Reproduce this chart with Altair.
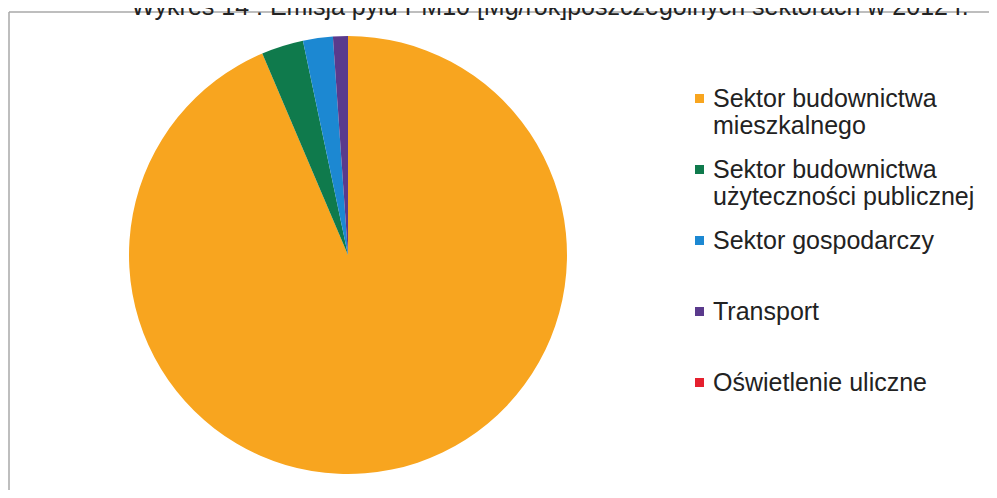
import altair as alt
import pandas as pd

categories = [
    "Sektor budownictwa mieszkalnego",
    "Sektor budownictwa użyteczności publicznej",
    "Sektor gospodarczy",
    "Transport",
    "Oświetlenie uliczne",
]
values = [93.6, 3.1, 2.2, 1.1, 0.0]
order_idx = [0, 1, 2, 3, 4]
colors = ["#F8A51F", "#0F7A4C", "#1C88D2", "#5A3A8C", "#E5202E"]
title_text = "Wykres 14 : Emisja pyłu PM10 [Mg/rok]poszczególnych sektorach w 2012 r."

df = pd.DataFrame({"sektor": categories, "emisja": values, "kolejnosc": order_idx})

pie = alt.Chart(df).mark_arc(radius=219, strokeWidth=0).encode(
    theta=alt.Theta("emisja:Q", stack=True),
    color=alt.Color(
        "sektor:N",
        scale=alt.Scale(domain=categories, range=colors),
        legend=alt.Legend(
            title=None,
            orient="none",
            legendX=679,
            legendY=66,
            symbolType="square",
            symbolSize=81,
            symbolStrokeWidth=0,
            labelFont="Liberation Sans",
            labelFontSize=25,
            labelColor="#222222",
            labelOffset=1,
            labelLimit=400,
            labelExpr="split(replace(datum.label, 'budownictwa ', 'budownictwa|'), '|')",
            gridAlign="all",
            rowPadding=18,
        ),
    ),
    order=alt.Order("kolejnosc:Q"),
)

frame_df = pd.DataFrame({"k": [0]})
frame_top = alt.Chart(frame_df).mark_rule(color="#A8A8A8", strokeWidth=1.5).encode(
    x=alt.value(1), x2=alt.value(1000), y=alt.value(-8)
)
frame_left = alt.Chart(frame_df).mark_rule(color="#A8A8A8", strokeWidth=1.5).encode(
    x=alt.value(1), y=alt.value(-8), y2=alt.value(480)
)
title = alt.Chart(pd.DataFrame({"t": [title_text]})).mark_text(
    font="Liberation Sans", fontSize=25, color="#222222", align="center", baseline="alphabetic"
).encode(text="t:N", x=alt.value(542), y=alt.value(-5))

chart = alt.layer(pie, frame_top, frame_left, title).properties(
    width=680,
    height=470,
    padding={"left": 0, "top": 12, "right": 301, "bottom": 0},
    autosize=alt.AutoSizeParams(type="none"),
).configure_view(stroke=None)

chart.save("out.html", embed_options={"renderer": "svg", "actions": False})
